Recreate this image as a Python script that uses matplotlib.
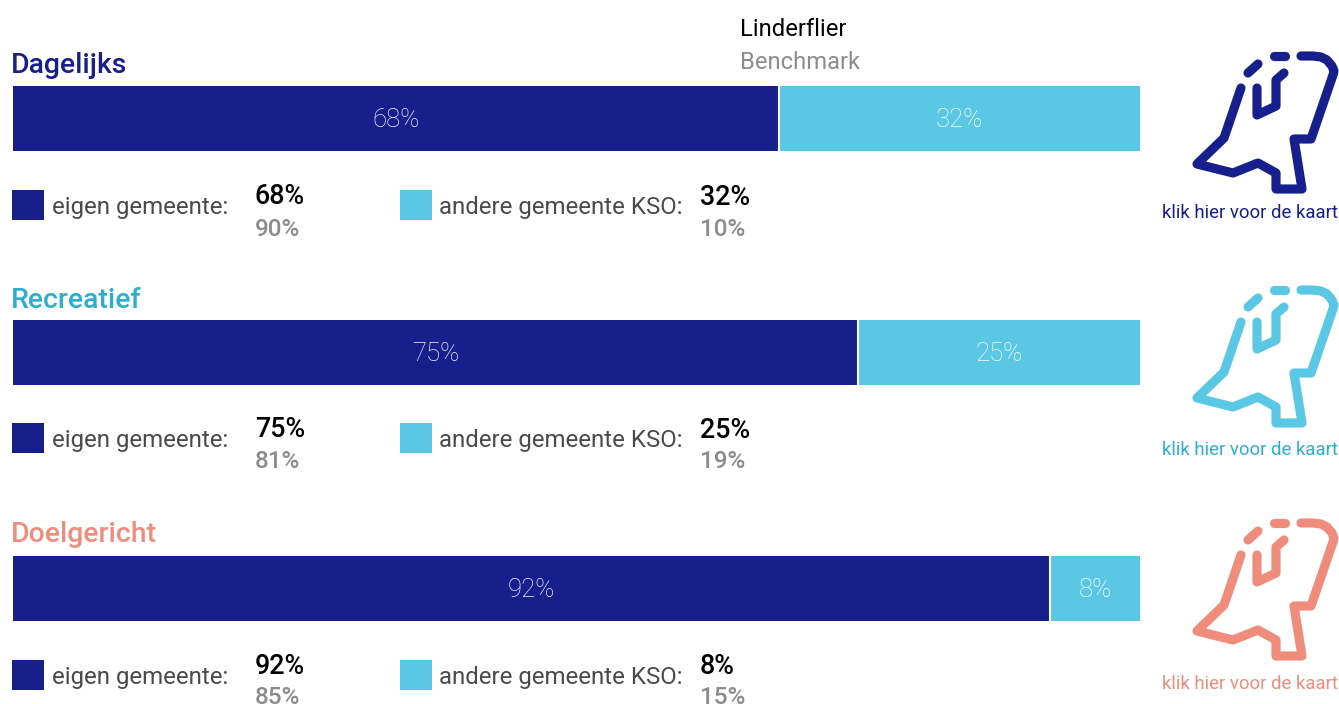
import matplotlib
matplotlib.use('Agg')
import matplotlib.pyplot as plt

plt.rcParams['font.family'] = ['Roboto', 'DejaVu Sans']

categories = ['Dagelijks', 'Recreatief', 'Doelgericht']
eigen = [68, 75, 92]
andere = [32, 25, 8]
eigen_benchmark = [90, 81, 85]
andere_benchmark = [10, 19, 15]
legend_labels = ['eigen gemeente:', 'andere gemeente KSO:']
map_text = 'klik hier voor de kaart'

NAVY = '#161f8c'
LIGHT = '#5ac8e4'
title_colors = [NAVY, '#2bafd0', '#f08c7c']
icon_colors = [NAVY, LIGHT, '#f08c7c']
GREY = '#4a4a4a'
BENCH = '#8c8c8c'

W, H = 1339, 704

# pixel positions of each block
bar_tops = [86, 319.5, 556]
bar_h = 65
title_y = [65.5, 300, 534.5]
square_y = [190, 423, 660]
label_y = [207.5, 440.5, 677.5]
val_y = [(197, 229), (429.5, 461), (666.5, 698)]
val2_y = [(197.5, 229), (430.5, 462), (666.5, 698)]
klik_y = [213, 450, 684]
icon_dy = [0, 234, 467]

# icon outline, traced in pixels for the first block
outline = [(1241, 88), (1224, 138), (1197, 164), (1233, 173), (1258, 163),
           (1276, 173), (1276, 189), (1302, 189), (1294, 139), (1311, 139),
           (1333, 75), (1334, 71), (1332, 66), (1327, 60), (1321, 57), (1313, 56), (1301, 56)]
inner = [(1257, 88), (1257, 115), (1276, 106), (1276, 80), (1284, 73)]
dash1 = [(1248, 73), (1258, 64)]
dash2 = [(1274, 56), (1285, 56)]

fig = plt.figure(figsize=(W / 100, H / 100), dpi=100)
ov = fig.add_axes([0, 0, 1, 1])
ov.set_xlim(0, W)
ov.set_ylim(H, 0)
ov.axis('off')

ov.text(740, 29.5, 'Linderflier', fontsize=17.1, color='black', va='center')
ov.text(740, 62.5, 'Benchmark', fontsize=17.1, color=BENCH, va='center')

for i, cat in enumerate(categories):
    # stacked bar in its own axes
    ax = fig.add_axes([13.3 / W, 1 - (bar_tops[i] + bar_h) / H, 1126.7 / W, bar_h / H])
    ax.barh([0], [eigen[i]], height=1, color=NAVY)
    ax.barh([0], [andere[i]], left=[eigen[i]], height=1, color=LIGHT)
    ax.axvline(eigen[i], color='white', lw=1.5)
    ax.set_xlim(0, 100)
    ax.set_ylim(-0.5, 0.5)
    ax.axis('off')
    ax.text(eigen[i] / 2, -0.03, f'{eigen[i]}%', color='#f4f4fa', fontsize=18.5, fontweight='light',
            ha='center', va='center')
    ax.text(eigen[i] + andere[i] / 2, -0.03, f'{andere[i]}%', color='white', fontsize=18.5, fontweight='light',
            ha='center', va='center')

    ov.text(11, title_y[i], cat, fontsize=20.4, fontweight='medium', color=title_colors[i], va='center')

    # legend rows
    ov.add_patch(plt.Rectangle((12, square_y[i]), 32, 30, color=NAVY, lw=0))
    ov.add_patch(plt.Rectangle((400, square_y[i]), 32, 30, color=LIGHT, lw=0))
    ov.text(52, label_y[i], legend_labels[0], fontsize=17.3, color=GREY, va='center')
    ov.text(439, label_y[i], legend_labels[1], fontsize=17.3, color=GREY, va='center')

    ov.text(255, val_y[i][0], f'{eigen[i]}%', fontsize=19.4, fontweight='medium', color='black', va='center')
    ov.text(255, val_y[i][1], f'{eigen_benchmark[i]}%', fontsize=17.5, fontweight='medium', color=BENCH, va='center')
    ov.text(700, val2_y[i][0], f'{andere[i]}%', fontsize=19.4, fontweight='medium', color='black', va='center')
    ov.text(700, val2_y[i][1], f'{andere_benchmark[i]}%', fontsize=17.5, fontweight='medium', color=BENCH, va='center')

    # map icon
    for path in (outline, inner, dash1, dash2):
        xs = [p[0] for p in path]
        ys = [p[1] + icon_dy[i] for p in path]
        ov.plot(xs, ys, color=icon_colors[i], lw=6.6, solid_capstyle='round', solid_joinstyle='round')

    ov.text(1250, klik_y[i], map_text, fontsize=13.4, color=title_colors[i], ha='center', va='center')

fig.savefig('out.png', dpi=100)
